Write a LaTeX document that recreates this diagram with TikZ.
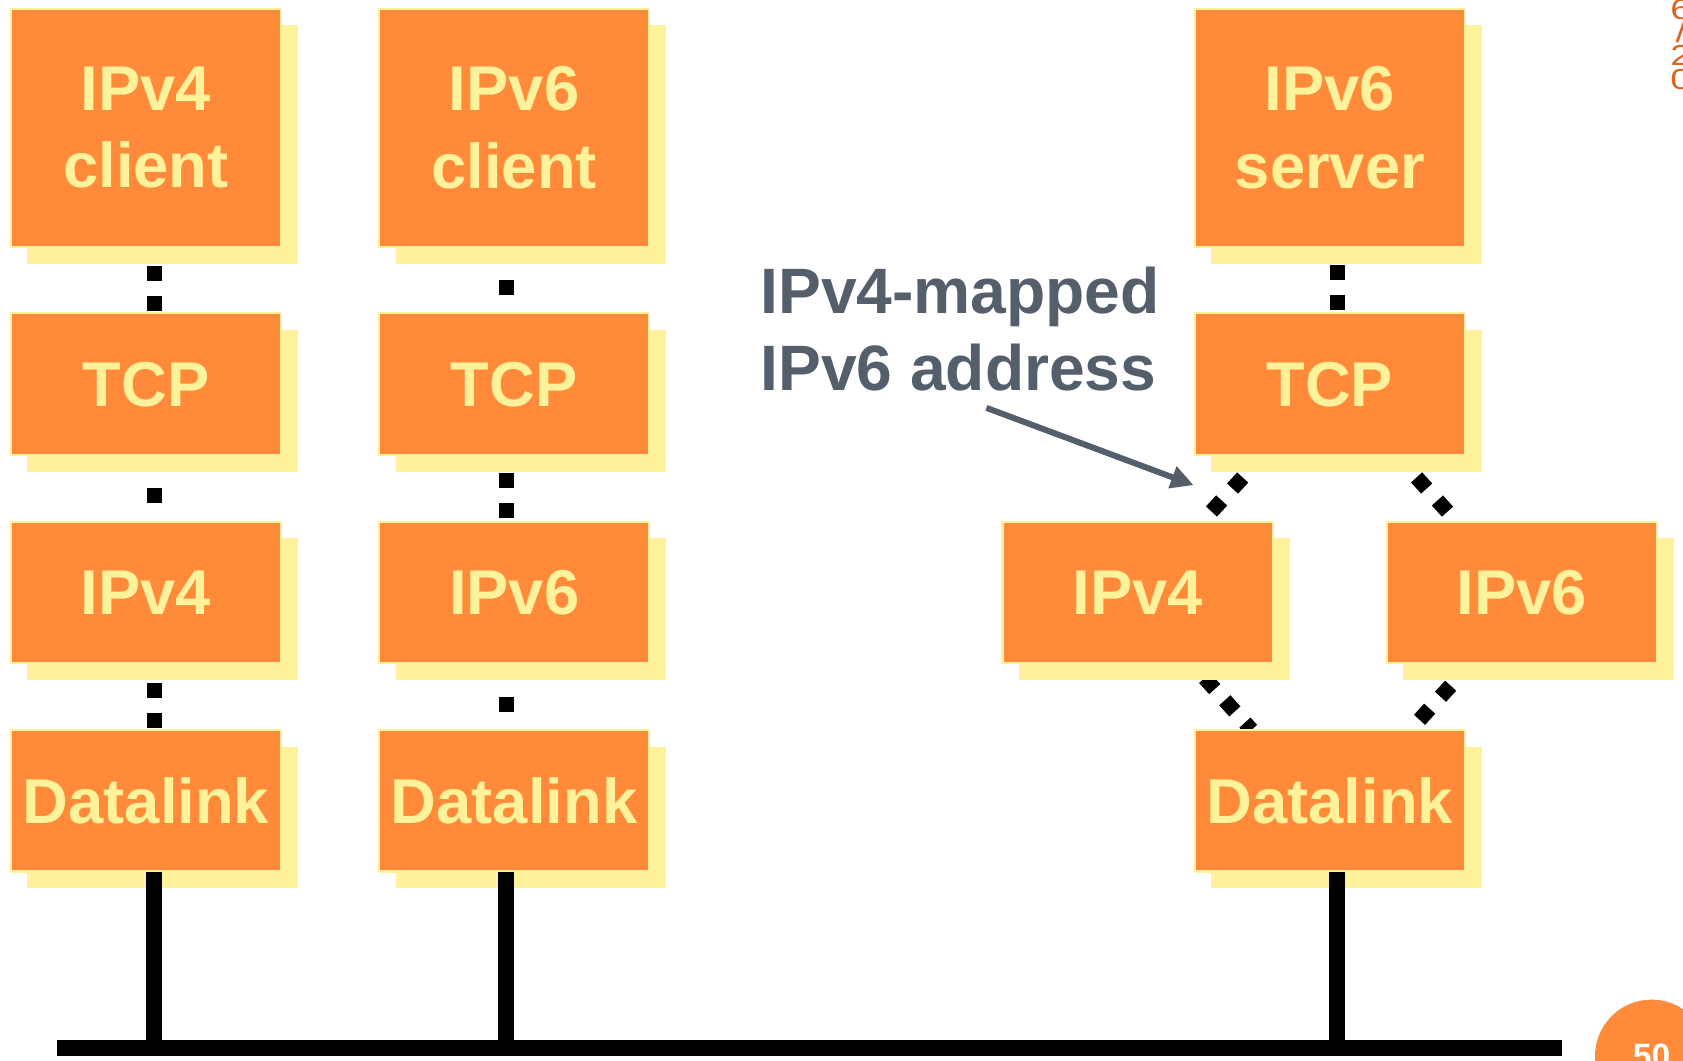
\documentclass[tikz,border=0pt]{standalone}
\usepackage{fontspec}
\setmainfont{Liberation Sans}
\usetikzlibrary{shadows,backgrounds,arrows.meta}

\definecolor{boxfill}{HTML}{FF8A3A}
\definecolor{pale}{HTML}{FFF29B}
\definecolor{slate}{HTML}{555E6B}
\definecolor{rust}{HTML}{D8661E}

\begin{document}
\begin{tikzpicture}[x=0.5pt,y=-0.5pt,
  layer/.style={rectangle, fill=boxfill, draw=pale, line width=1pt,
    inner sep=0pt, outer sep=0pt, minimum width=126pt, minimum height=66pt,
    text=pale, align=center,
    font=\fontsize{29.5}{36}\selectfont\bfseries,
    drop shadow={shadow xshift=7.75pt, shadow yshift=-7.75pt,
      fill=pale, draw=none, opacity=1}},
  tall/.style={minimum height=111pt},
  dotlink/.style={line width=7pt, dash pattern=on 7pt off 7pt},
  diaglink/.style={line width=7pt, dash pattern=on 7pt off 7.5pt},
  wire/.style={line width=7.5pt},
  pointer/.style={draw=slate, line width=2.8pt,
    -{Triangle[length=10.5pt,width=10.3pt]}, fill=slate}]

\useasboundingbox (0,0) rectangle (1568,988);

% protocol stacks
\node[layer,tall] (cliA) at (136,119) {IPv4\\client};
\node[layer] (tcpA) at (136,358) {TCP};
\node[layer] (ipA)  at (136,552) {IPv4};
\node[layer] (dlA)  at (136,746) {Datalink};

\node[layer,tall] (cliB) at (479,119) {IPv6\\client};
\node[layer] (tcpB) at (479,358) {TCP};
\node[layer] (ipB)  at (479,552) {IPv6};
\node[layer] (dlB)  at (479,746) {Datalink};

\node[layer,tall] (srvC) at (1239,119) {IPv6\\server};
\node[layer] (tcpC) at (1239,358) {TCP};
\node[layer] (v4C)  at (1060,552) {IPv4};
\node[layer] (v6C)  at (1418,552) {IPv6};
\node[layer] (dlC)  at (1239,746) {Datalink};

% dotted links between layers, kept under the shadows
\begin{scope}[on background layer]
  \draw[dotlink, shorten <=9pt] ([xshift=3.75pt]cliA.south) -- ([xshift=3.75pt]tcpA.north);
  \draw[dotlink, shorten <=15.5pt, shorten >=7.5pt] ([xshift=3.75pt]tcpA.south) -- ([xshift=3.75pt]ipA.north);
  \draw[dotlink, shorten <=9pt] ([xshift=3.75pt]ipA.south) -- ([xshift=3.75pt]dlA.north);

  \draw[dotlink, shorten <=15.5pt, shorten >=7.5pt] ([xshift=-3.75pt]cliB.south) -- ([xshift=-3.75pt]tcpB.north);
  \draw[dotlink, shorten <=8.5pt] ([xshift=-3.75pt]tcpB.south) -- ([xshift=-3.75pt]ipB.north);
  \draw[dotlink, shorten <=15.5pt, shorten >=7.5pt] ([xshift=-3.75pt]ipB.south) -- ([xshift=-3.75pt]dlB.north);

  \draw[dotlink, shorten <=8.5pt] ([xshift=3.5pt]srvC.south) -- ([xshift=3.5pt]tcpC.north);

  \draw[diaglink, shorten <=14.2pt] ([xshift=-31pt]tcpC.south) -- ([xshift=30pt]v4C.north);
  \draw[diaglink, shorten <=14pt] ([xshift=31pt]tcpC.south) -- ([xshift=-30.5pt]v6C.north);
  \draw[dotlink, shorten <=9.2pt] ([xshift=25pt]v4C.south) -- ([xshift=-36.5pt]dlC.north);
  \draw[diaglink, shorten <=14.1pt] ([xshift=-23.75pt]v6C.south) -- ([xshift=37.5pt]dlC.north);
\end{scope}

% shared medium
\coordinate (busL) at (53,976.5);
\coordinate (busR) at (1455,976.5);
\draw[wire] (busL) -- (busR);
\draw[wire] ([xshift=3.75pt]dlA.south) -- ([xshift=3.75pt]dlA.south |- busL);
\draw[wire] ([xshift=-3.75pt]dlB.south) -- ([xshift=-3.75pt]dlB.south |- busL);
\draw[wire] ([xshift=3.5pt]dlC.south) -- ([xshift=3.5pt]dlC.south |- busL);

% annotation
\node[text=slate, align=left, anchor=north west, inner sep=0pt,
  font=\fontsize{29.9}{36}\selectfont\bfseries] (mapnote) at (708,248)
  {IPv4-mapped\\IPv6 address};
\coordinate (tail) at (919,380);
\coordinate (tip) at (1112,452);
\draw[pointer] (tail) -- (tip);

% page badge and side date, both running off the page edge
\node[circle, fill=boxfill, text=white, minimum size=52.7pt, inner sep=0pt,
  font=\fontsize{15.7}{18}\selectfont\bfseries] (badge) at (1538.7,984) {50};
\node[text=rust, align=center, anchor=north, inner sep=0pt, xscale=1.3,
  font=\fontsize{13.5}{10.8}\selectfont] (sidedate) at (1566,-1) {6\\/\\2\\0};
\end{tikzpicture}
\end{document}
